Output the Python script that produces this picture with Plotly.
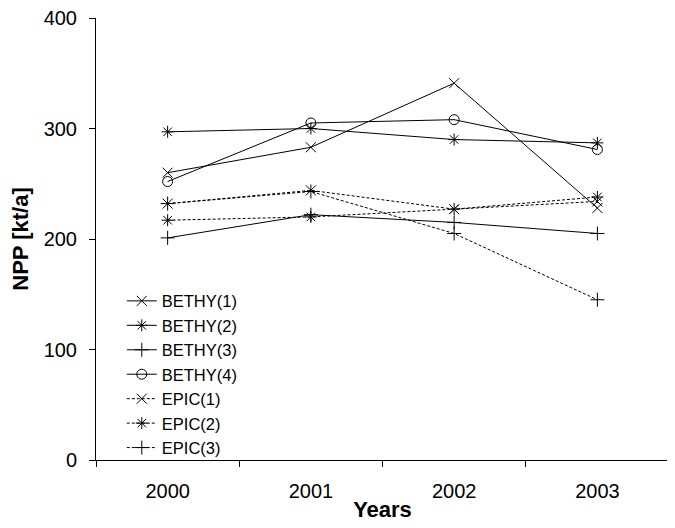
import plotly.graph_objects as go

years = ["2000", "2001", "2002", "2003"]
bethy1 = [260, 283, 341, 228]
bethy2 = [297, 300, 290, 287]
bethy3 = [201, 222, 215, 205]
bethy4 = [252, 305, 308, 281]
epic1 = [232, 244, 227, 234]
epic2 = [217, 220, 227, 238]
epic3 = [232, 243, 205, 145]

series = [
    ("BETHY(1)", bethy1, "x-thin-open", "solid"),
    ("BETHY(2)", bethy2, "asterisk-open", "solid"),
    ("BETHY(3)", bethy3, "cross-thin-open", "solid"),
    ("BETHY(4)", bethy4, "circle-open", "solid"),
    ("EPIC(1)", epic1, "x-thin-open", "3px,2px"),
    ("EPIC(2)", epic2, "asterisk-open", "3px,2px"),
    ("EPIC(3)", epic3, "cross-thin-open", "3px,2px"),
]

FONT = "Liberation Sans, Arial, sans-serif"

fig = go.Figure()
for name, vals, sym, dash in series:
    fig.add_trace(go.Scatter(
        x=years, y=vals, name=name, mode="lines+markers",
        line=dict(color="black", width=1, dash=dash),
        marker=dict(symbol=sym, size=10, color="black",
                    line=dict(color="black", width=1)),
    ))

fig.update_layout(
    width=667, height=520,
    margin=dict(l=88, r=6, t=10, b=68, autoexpand=False),
    paper_bgcolor="white", plot_bgcolor="white",
    font=dict(family=FONT, color="black", size=20),
    showlegend=True,
    legend=dict(
        x=0.045, y=0.399, xanchor="left", yanchor="top",
        bgcolor="rgba(0,0,0,0)", font=dict(family=FONT, size=16.5, color="black"),
        tracegroupgap=0, itemwidth=30,
    ),
)
fig.update_xaxes(
    type="category", range=[-0.5, 3.5],
    showline=True, linecolor="black", linewidth=1,
    ticks="outside", tickson="boundaries", ticklen=6, tickcolor="black",
    showgrid=False, zeroline=False,
    ticklabelstandoff=13,
    tickfont=dict(family=FONT, size=20, color="black"),
    title=dict(text="<b>Years</b>", font=dict(family=FONT, size=22, color="black"), standoff=0),
)
fig.update_yaxes(
    range=[0, 400], tickvals=[0, 100, 200, 300, 400],
    showline=True, linecolor="black", linewidth=1,
    ticks="outside", ticklen=6, tickcolor="black",
    showgrid=False, zeroline=False,
    ticklabelstandoff=8, ticklabeloverflow="allow",
    tickfont=dict(family=FONT, size=20, color="black"),
    title=dict(text="<b>NPP [kt/a]</b>", font=dict(family=FONT, size=22, color="black"), standoff=11),
)

fig.write_html("out.html")
